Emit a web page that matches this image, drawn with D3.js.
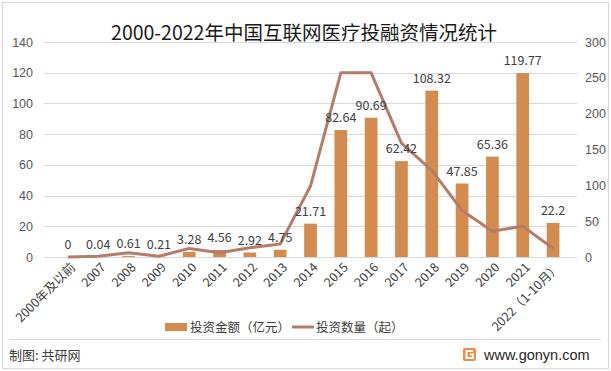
<!DOCTYPE html>
<html>
<head>
<meta charset="utf-8">
<script src="https://cdn.jsdelivr.net/npm/d3@7"></script>
<style>
  body { margin: 0; background: #fff; }
  svg { display: block; font-family: "Microsoft YaHei", "Noto Sans CJK SC", sans-serif; }
</style>
</head>
<body>
<script>
// data
const years = ["2000年及以前", "2007", "2008", "2009", "2010", "2011", "2012", "2013", "2014",
  "2015", "2016", "2017", "2018", "2019", "2020", "2021", "2022（1-10月）"]
const amount = [0, 0.04, 0.61, 0.21, 3.28, 4.56, 2.92, 4.75, 21.71,
  82.64, 90.69, 62.42, 108.32, 47.85, 65.36, 119.77, 22.2]
const counts = [0, 1, 6, 1, 12, 6, 13, 18, 99, 257, 257, 159, 121, 65, 36, 43, 12]
const leftTicks = [0, 20, 40, 60, 80, 100, 120, 140]
const rightTicks = [0, 50, 100, 150, 200, 250, 300]

const width = 611, height = 371
const margin = { top: 42, right: 34, bottom: 114, left: 44 }
const barColor = "#D48C4E"
const lineColor = "#B57D69"

const svg = d3.select("body").append("svg")
  .attr("width", width)
  .attr("height", height)

// outer frame
svg.append("rect")
  .attr("x", 2.5).attr("y", 2.5)
  .attr("width", width - 5).attr("height", height - 5)
  .attr("fill", "#fff")
  .attr("stroke", "#d9d9d9")

const x = d3.scaleBand()
  .domain(years)
  .range([margin.left, width - margin.right])
  .padding(0.58)

const y = d3.scaleLinear().domain([0, 140]).range([height - margin.bottom, margin.top])
const y2 = d3.scaleLinear().domain([0, 300]).range([height - margin.bottom, margin.top])

// gridlines
svg.append("g")
  .selectAll("line")
  .data(leftTicks)
  .join("line")
  .attr("x1", margin.left).attr("x2", width - margin.right)
  .attr("y1", d => Math.round(y(d)) + 0.5).attr("y2", d => Math.round(y(d)) + 0.5)
  .attr("stroke", "#d9d9d9")

// left axis
const yAxis = svg.append("g")
  .attr("transform", `translate(${margin.left},0)`)
  .call(d3.axisLeft(y).tickValues(leftTicks).tickSize(0).tickPadding(11))
yAxis.select(".domain").remove()
yAxis.selectAll("text").attr("fill", "#595959").style("font-size", "12.5px")

// right axis
const yAxis2 = svg.append("g")
  .attr("transform", `translate(${width - margin.right},0)`)
  .call(d3.axisRight(y2).tickValues(rightTicks).tickSize(0).tickPadding(8))
yAxis2.select(".domain").remove()
yAxis2.selectAll("text").attr("fill", "#595959").style("font-size", "12.5px")

// bars
svg.append("g")
  .selectAll("rect")
  .data(amount)
  .join("rect")
  .attr("x", (d, i) => x(years[i]))
  .attr("y", d => y(d))
  .attr("width", x.bandwidth())
  .attr("height", d => y(0) - y(d))
  .attr("fill", barColor)

// line
const line = d3.line()
  .x((d, i) => x(years[i]) + x.bandwidth() / 2)
  .y(d => y2(d))

svg.append("path")
  .datum(counts)
  .attr("d", line)
  .attr("fill", "none")
  .attr("stroke", lineColor)
  .attr("stroke-width", 3)
  .attr("stroke-linejoin", "round")

// value labels
svg.append("g")
  .selectAll("text")
  .data(amount)
  .join("text")
  .attr("x", (d, i) => x(years[i]) + x.bandwidth() / 2)
  .attr("y", d => y(d) - 8)
  .attr("text-anchor", "middle")
  .attr("fill", "#404040")
  .style("font-size", "12.5px")
  .text(d => d)

// x labels, rotated
svg.append("g")
  .selectAll("text")
  .data(years)
  .join("text")
  .attr("transform", d => `translate(${x(d) + x.bandwidth() / 2 + 5},${y(0) + 8}) rotate(-45)`)
  .attr("text-anchor", "end")
  .attr("dy", "0.35em")
  .attr("fill", "#404040")
  .style("font-size", "12.5px")
  .text(d => d)

// title
svg.append("text")
  .attr("x", 304).attr("y", 40)
  .attr("text-anchor", "middle")
  .attr("fill", "#1a1a1a")
  .style("font-size", "19.5px")
  .text("2000-2022年中国互联网医疗投融资情况统计")

// legend
const legend = svg.append("g").style("font-size", "12.5px").attr("fill", "#404040")
legend.append("rect")
  .attr("x", 165).attr("y", 323).attr("width", 22).attr("height", 8)
  .attr("fill", barColor)
legend.append("text").attr("x", 190).attr("y", 331.5).text("投资金额（亿元）")
legend.append("line")
  .attr("x1", 292).attr("x2", 314).attr("y1", 327).attr("y2", 327)
  .attr("stroke", lineColor).attr("stroke-width", 3)
legend.append("text").attr("x", 316).attr("y", 331.5).text("投资数量（起）")

// footer
svg.append("line")
  .attr("x1", 10).attr("x2", width - 10)
  .attr("y1", 339.5).attr("y2", 339.5)
  .attr("stroke", "#d9d9d9")

svg.append("text")
  .attr("x", 9).attr("y", 360)
  .attr("fill", "#404040")
  .style("font-size", "13px")
  .text("制图: 共研网")

const logo = svg.append("g").attr("transform", "translate(463,348)")
logo.append("rect").attr("width", 13).attr("height", 13).attr("rx", 2).attr("fill", "#F28C4B")
logo.append("path")
  .attr("d", "M10,3 H3.5 V10 H10 V6.5 H7")
  .attr("fill", "none").attr("stroke", "#fff").attr("stroke-width", 2)

svg.append("text")
  .attr("x", 484).attr("y", 360)
  .attr("fill", "#262626")
  .style("font-size", "14.5px")
  .style("font-family", "Arial, 'Liberation Sans', sans-serif")
  .text("www.gonyn.com")
</script>
</body>
</html>
